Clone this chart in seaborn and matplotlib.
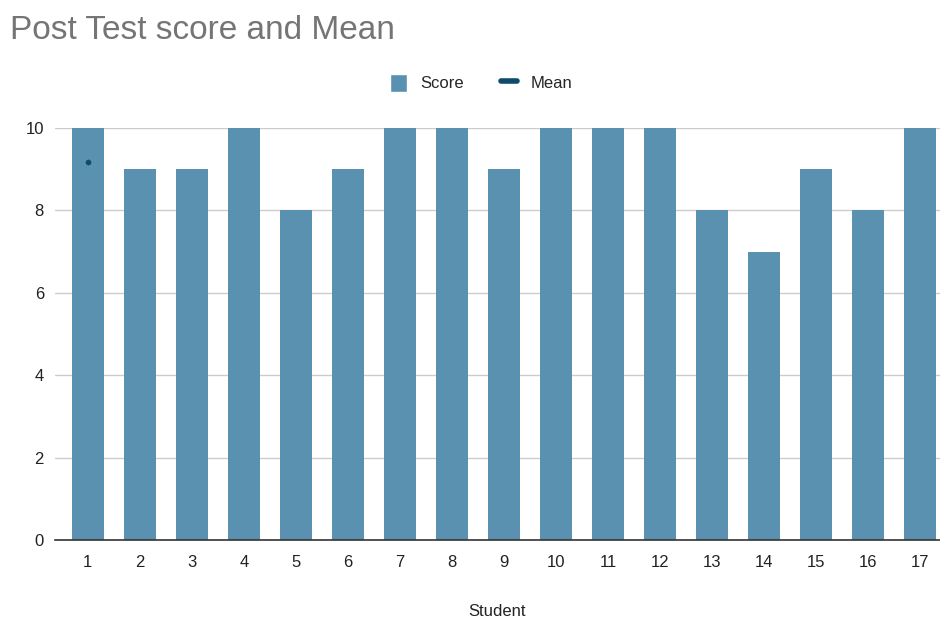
import numpy as np
import pandas as pd
import seaborn as sns
import matplotlib.pyplot as plt
from matplotlib.lines import Line2D
from matplotlib.patches import Patch

# values
students = [str(i) for i in range(1, 18)]
scores = [10, 9, 9, 10, 8, 9, 10, 10, 9, 10, 10, 10, 8, 7, 9, 8, 10]
mean_student = ["1"]
mean_value = [9.18]
y_ticks = [0, 2, 4, 6, 8, 10]

bar_color = "#5a91b1"
mean_color = "#0d4a6b"

df = pd.DataFrame({"Student": students, "Score": scores})

sns.set_style("white")
plt.rcParams["font.family"] = ["Liberation Sans", "DejaVu Sans"]

fig = plt.figure(figsize=(9.4, 6.23), dpi=100)
ax = fig.add_axes([0.0585, 0.133, 0.9415, 0.6615])

sns.barplot(data=df, x="Student", y="Score", color=bar_color, saturation=1,
            width=0.62, linewidth=0, ax=ax, zorder=3)
sns.scatterplot(x=mean_student, y=mean_value, color=mean_color, s=14,
                edgecolor=mean_color, ax=ax, zorder=4)

ax.set_ylim(0, 10)
ax.set_xlim(-0.63, 16.38)
ax.set_yticks(y_ticks)
ax.yaxis.grid(True, color="#cccccc", linewidth=1, zorder=0)
for s in ["top", "right", "left"]:
    ax.spines[s].set_visible(False)
ax.spines["bottom"].set_color("#333333")
ax.spines["bottom"].set_linewidth(1.2)
ax.spines["bottom"].set_zorder(5)
ax.tick_params(axis="x", length=0, labelsize=12, colors="#222222", pad=11)
ax.tick_params(axis="y", length=0, labelsize=12, colors="#222222", pad=8)
ax.set_ylabel("")
ax.set_xlabel("Student", fontsize=12, color="#222222", labelpad=24)

fig.text(0.011, 0.951, "Post Test score and Mean", fontsize=24, color="#757575",
         va="center", ha="left")

handles = [Patch(facecolor=bar_color, label="Score"),
           Line2D([0], [0], color=mean_color, lw=4, label="Mean")]
fig.legend(handles=handles, loc="center", bbox_to_anchor=(0.512, 0.867), ncol=2,
           frameon=False, fontsize=12, handlelength=1.0, handleheight=1.3,
           columnspacing=2.2, handletextpad=0.8)

fig.savefig("out.png", dpi=100)
